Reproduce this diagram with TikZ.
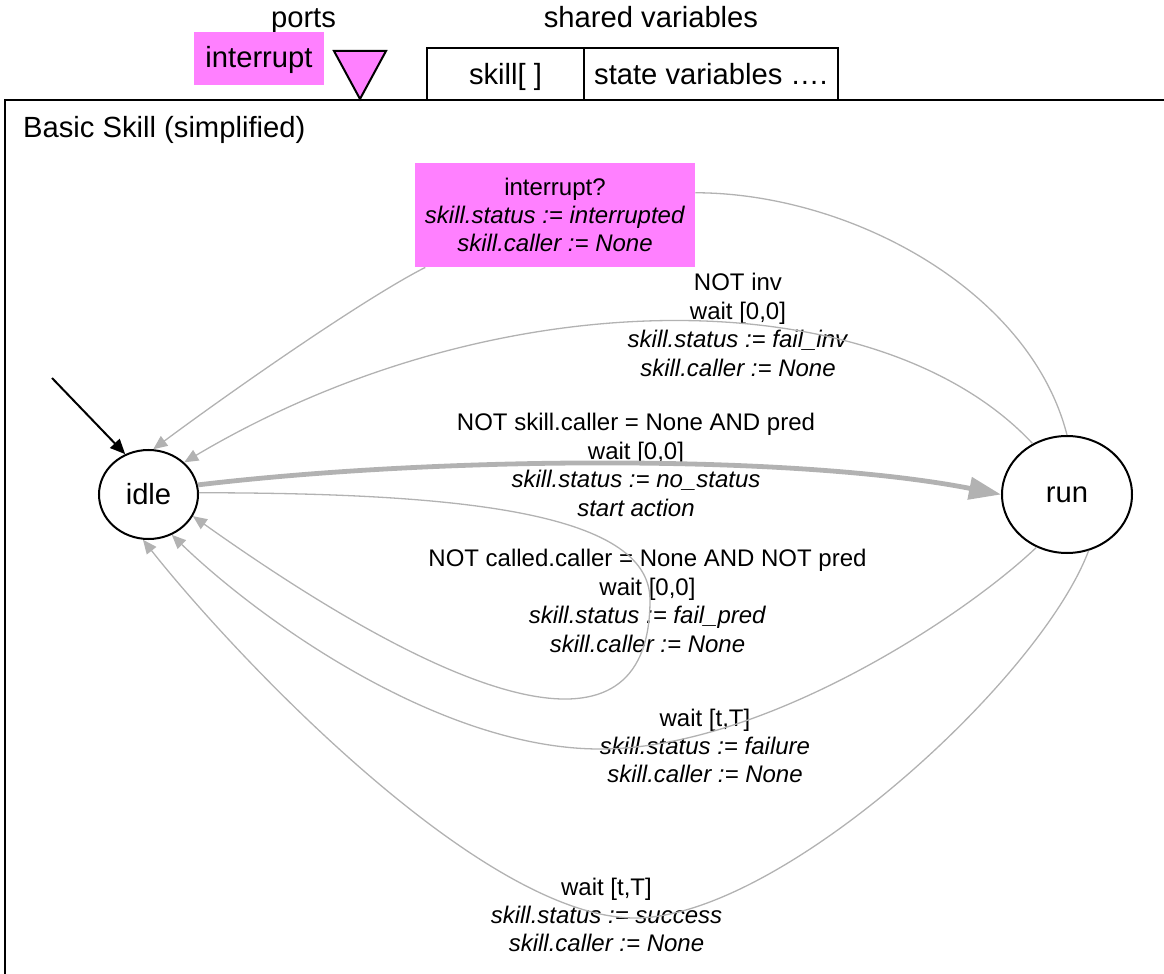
\documentclass[tikz,border=0pt]{standalone}
\usepackage{fontspec}
\setmainfont{Liberation Sans}
\usetikzlibrary{shapes.geometric,arrows.meta,positioning}
\definecolor{portpink}{RGB}{255,128,255}
\definecolor{edgegray}{RGB}{178,178,178}

\begin{document}
\begin{tikzpicture}[x=0.5pt,y=-0.5pt,%
		font=\fontsize{14.6}{17}\selectfont,
		st/.style={ellipse,draw,line width=1pt,inner sep=0pt},
		trans/.style={draw=edgegray,line width=0.65pt,-{Triangle[length=7pt,width=6pt]}},
		guard/.style={align=center,inner sep=0pt,font=\fontsize{12}{14.2}\selectfont},
		varbox/.style={draw,line width=1pt,outer sep=0pt,inner sep=0pt,minimum height=26pt,
			text height=10.5pt,text depth=0pt}]
	\useasboundingbox (0,0) rectangle (1164,974);
	\draw[line width=1pt] (1164,100) -| (5,974);
	\node[anchor=base] (ports) at (303.5,28) {ports};
	\node[fill=portpink,minimum width=65pt,minimum height=26.5pt,inner sep=0pt,
		text height=9.5pt,text depth=0pt] (intport) at (259,58.5) {interrupt};
	\draw[fill=portpink,line width=1pt,line join=miter] (334,51) -- (386,51) -- (360,99) -- cycle;
	\node[anchor=base] (shared) at (651,28) {shared variables};
	\node[varbox,minimum width=78.5pt] (skillvar) at (505.5,74) {skill[ ]};
	\node[varbox,minimum width=127pt,right=0pt of skillvar] (statevar) {state variables ….};
	\node[anchor=base west] (title) at (16,138) {Basic Skill (simplified)};

	\node[st,minimum width=49.5pt,minimum height=44.5pt] (idle) at (148.5,494.5) {idle};
	\node[st,minimum width=65pt,minimum height=58.5pt] (run) at (1067,494.5) {run};
	\coordinate (init) at (52,378);
	\draw[line width=1pt,-{Triangle[length=7.5pt,width=6.5pt]}] (init) -- (idle.120);

	\node[guard,fill=portpink,minimum width=140pt,minimum height=52pt] (intbox) at (555,215)
		{interrupt?\\\textit{skill.status := interrupted}\\\textit{skill.caller := None}};
	\node[guard] (lblinv) at (738,325)
		{NOT inv\\wait [0,0]\\\textit{skill.status := fail\_inv}\\\textit{skill.caller := None}};
	\node[guard] (lblstart) at (636,465)
		{NOT skill.caller = None AND pred\\wait [0,0]\\\textit{skill.status := no\_status}\\\textit{start action}};
	\node[guard] (lblpred) at (647.5,601)
		{NOT called.caller = None AND NOT pred\\wait [0,0]\\\textit{skill.status := fail\_pred}\\\textit{skill.caller := None}};
	\node[guard] (lblfail) at (705,746)
		{wait [t,T]\\\textit{skill.status := failure}\\\textit{skill.caller := None}};
	\node[guard] (lblsucc) at (606.5,915)
		{wait [t,T]\\\textit{skill.status := success}\\\textit{skill.caller := None}};

	\draw[trans] (run.90) .. controls (1030,290) and (850,193) .. (intbox.9)
		(intbox.202) .. controls (365,298) and (233,390) .. (idle.84);
	\draw[trans] (run.124) .. controls (880,280) and (500,275) .. (idle.42);
	\draw[trans,line width=2.4pt,-{Triangle[length=16pt,width=11pt]}]
		(idle.11) .. controls (450,455) and (800,455) .. (run.180);
	\draw[trans] (idle.2) .. controls (450,493) and (650,510) .. (650,600)
		.. controls (650,760) and (480,720) .. (idle.-26);
	\draw[trans] (run.-120) .. controls (960,620) and (760,749) .. (600,749)
		.. controls (440,749) and (260,620) .. (idle.-60);
	\draw[trans] (run.-69) .. controls (1040,680) and (780,918) .. (635,918)
		.. controls (480,918) and (230,650) .. (idle.-97);
\end{tikzpicture}
\end{document}
